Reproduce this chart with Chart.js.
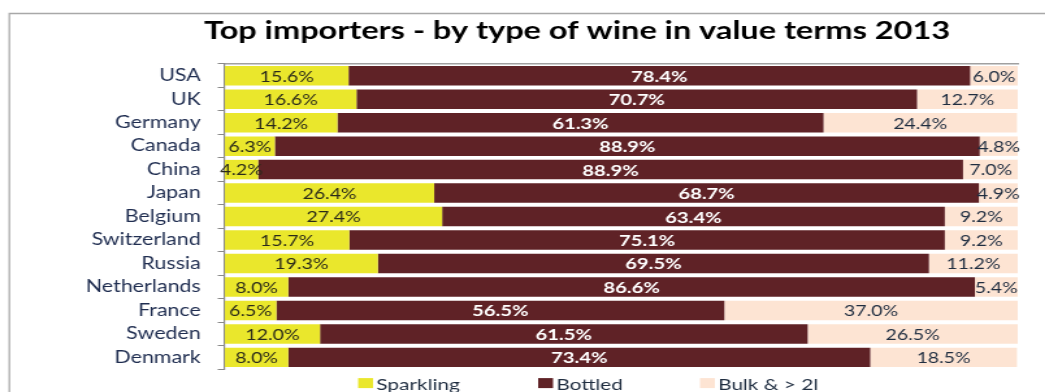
<!DOCTYPE html>
<html>
<head>
<meta charset="utf-8">
<script src="https://cdn.jsdelivr.net/npm/chart.js@4.4.1/dist/chart.umd.min.js"></script>
<style>
  html, body { margin: 0; padding: 0; background: #ffffff; overflow: hidden; width: 1045px; height: 392px; }
  /* the figure is laid out 804px wide and stretched across the 1045px page */
  #wrap { width: 804px; height: 392px; transform: scaleX(1.2998); transform-origin: 0 0; }
</style>
</head>
<body>
<div id="wrap"><canvas id="chart" width="804" height="392"></canvas></div>
<script>
// Share of import value by wine type, 2013 (percent)
const countries = ['USA', 'UK', 'Germany', 'Canada', 'China', 'Japan', 'Belgium',
  'Switzerland', 'Russia', 'Netherlands', 'France', 'Sweden', 'Denmark'];
const sparkling = [15.6, 16.6, 14.2, 6.3, 4.2, 26.4, 27.4, 15.7, 19.3, 8.0, 6.5, 12.0, 8.0];
const bottled   = [78.4, 70.7, 61.3, 88.9, 88.9, 68.7, 63.4, 75.1, 69.5, 86.6, 56.5, 61.5, 73.4];
const bulk      = [6.0, 12.7, 24.4, 4.8, 7.0, 4.9, 9.2, 9.2, 11.2, 5.4, 37.0, 26.5, 18.5];
const seriesNames = ['Sparkling', 'Bottled', 'Bulk & > 2l'];
const chartTitle = 'Top importers - by type of wine in value terms 2013';

const FONT = 'Lato, "Open Sans", sans-serif';
const colors = ['#eae72c', '#5f2226', '#fde4d3'];
const labelColors = ['#2a2a1a', '#ffffff', '#1f2d40'];
const labelFonts = ['15px ', 'bold 15.5px ', '15px '];

// Grey frame around the whole figure, plus the heading inside it
const framePlugin = {
  id: 'frame',
  beforeDraw(chart) {
    const ctx = chart.ctx;
    ctx.save();
    ctx.strokeStyle = '#a8a8a8';
    ctx.lineWidth = 1.3;
    ctx.beginPath();
    ctx.moveTo(chart.width + 5, 13.5);
    ctx.lineTo(7.2, 13.5);
    ctx.lineTo(7.2, chart.height + 5);
    ctx.stroke();
    ctx.fillStyle = '#000000';
    ctx.font = 'bold 25px ' + FONT;
    ctx.textAlign = 'center';
    ctx.textBaseline = 'alphabetic';
    ctx.fillText(chartTitle, 444, 39);
    ctx.restore();
  }
};

// Percent text centred on every bar segment
const segmentLabels = {
  id: 'segmentLabels',
  afterDatasetsDraw(chart) {
    const ctx = chart.ctx;
    ctx.save();
    ctx.textAlign = 'center';
    ctx.textBaseline = 'middle';
    chart.data.datasets.forEach((ds, di) => {
      const meta = chart.getDatasetMeta(di);
      ctx.fillStyle = labelColors[di];
      ctx.font = labelFonts[di] + FONT;
      meta.data.forEach((bar, i) => {
        const p = bar.getProps(['x', 'y', 'base'], true);
        const cx = (p.x + p.base) / 2;
        ctx.fillText(ds.data[i].toFixed(1) + '%', cx, p.y + 1);
      });
    });
    ctx.restore();
  }
};

// Legend row below the plot
const bottomLegend = {
  id: 'bottomLegend',
  afterDraw(chart) {
    const ctx = chart.ctx;
    const area = chart.chartArea;
    const starts = [275.5, 414, 538.5];
    const top = area.bottom + 9;
    ctx.save();
    ctx.font = '16px ' + FONT;
    ctx.textBaseline = 'alphabetic';
    ctx.textAlign = 'left';
    chart.data.datasets.forEach((ds, di) => {
      ctx.fillStyle = ds.backgroundColor;
      ctx.fillRect(starts[di], top, 11.5, 10);
      ctx.fillStyle = '#1f2d40';
      ctx.fillText(ds.label, starts[di] + 14, top + 12);
    });
    ctx.restore();
  }
};

const datasets = [sparkling, bottled, bulk].map((vals, i) => ({
  label: seriesNames[i],
  data: vals,
  backgroundColor: colors[i],
  borderWidth: 0,
  categoryPercentage: 1.0,
  barPercentage: 0.83
}));

new Chart(document.getElementById('chart'), {
  type: 'bar',
  data: { labels: countries, datasets },
  plugins: [framePlugin, segmentLabels, bottomLegend],
  options: {
    indexAxis: 'y',
    responsive: false,
    animation: false,
    layout: { padding: { left: 10, right: 21, top: 64, bottom: 19 } },
    plugins: {
      legend: { display: false },
      tooltip: { enabled: false },
      title: { display: false }
    },
    scales: {
      x: {
        stacked: true,
        position: 'top',
        min: 0,
        max: 100,
        ticks: { display: false },
        grid: { display: false, drawTicks: false },
        border: { display: true, color: '#a0a0a0', width: 1.5 }
      },
      y: {
        stacked: true,
        offset: true,
        afterFit(scale) { scale.width = 163; },
        ticks: {
          autoSkip: false,
          color: '#1f2d50',
          font: { family: FONT, size: 16.5 },
          padding: 13
        },
        grid: {
          offset: true,
          drawOnChartArea: false,
          drawTicks: true,
          tickLength: 5.5,
          color: '#8a8a8a'
        },
        border: { display: true, color: '#8a8a8a', width: 1.2 }
      }
    }
  }
});
</script>
</body>
</html>
